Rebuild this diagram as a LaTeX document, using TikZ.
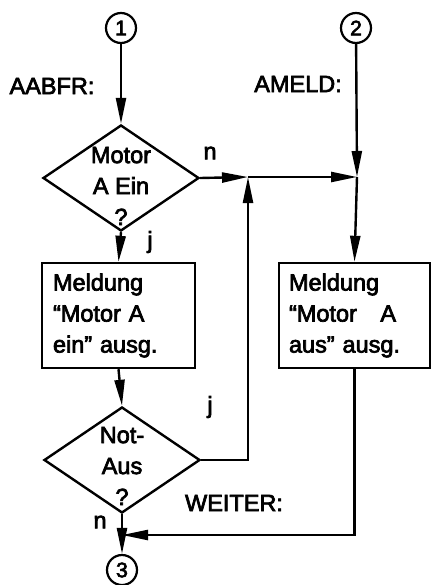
\documentclass[tikz,border=0pt]{standalone}
\usepackage{fontspec}
\setmainfont{Liberation Sans}[FakeBold=3]
\usetikzlibrary{shapes.geometric,arrows.meta}
\tikzset{
  flow/.style={line width=2.4pt},
  arr/.style={flow,-{Triangle[length=26pt,width=10pt]}},
  conn/.style={circle,draw,line width=2.2pt,minimum size=30pt,inner sep=0pt,font=\fontsize{21}{21}\selectfont},
  decis/.style={diamond,draw,line width=2.4pt,minimum width=156pt,minimum height=106pt,inner sep=0pt},
  dtext/.style={align=center,inner sep=0pt},
  proc/.style={rectangle,draw,line width=2.4pt,minimum height=105pt,inner sep=0pt,align=left},
  lbl/.style={inner sep=0pt}
}
\begin{document}
\begin{tikzpicture}[x=1pt,y=-1pt,font=\fontsize{23.5}{31}\selectfont]
\useasboundingbox (0,0) rectangle (432,585);
% connectors
\node[conn] (c1) at (121,28) {1};
\node[conn] (c2) at (356,28) {2};
\node[conn] (c3) at (122,570) {3};
% labels
\node[lbl] (lA) at (52,86) {AABFR:};
\node[lbl] (lB) at (298,84) {AMELD:};
\node[lbl] (lC) at (234,503) {WEITER:};
% decisions
\node[decis] (d1) at (121,178) {};
\node[dtext] (d1t) at (121,186) {Motor\\A Ein\\?};
\node[decis] (d2) at (122,460) {};
\node[dtext] (d2t) at (122,466) {Not-\\Aus\\?};
% boxes
\node[proc,minimum width=153pt,text width=131pt] (b1) at (118.5,315.5) {Meldung\\“Motor A\\ein” ausg.};
\node[proc,minimum width=151pt,text width=131pt] (b2) at (354.5,315.5) {Meldung\\“Motor\ \ \ A\\aus” ausg.};
% branch labels
\node[lbl] (n1) at (210,153) {n};
\node[lbl] (j1) at (150,242) {j};
\node[lbl] (j2) at (210,407) {j};
\node[lbl] (n2) at (100,522) {n};
% junctions
\coordinate (jA) at (248,177);
\coordinate (jB) at (357,177);
\coordinate (jC) at (122,535);
% flow
\draw[arr] (c1) -- (d1.north);
\draw[arr] (d1.south) -- (b1.north);
\draw[arr] (b1.south) -- (d2.north);
\draw[arr] (d2.south) -- (c3);
\draw[arr] (d1.east) -- (jA);
\draw[arr] (jA) -- (jB);
\draw[arr] (c2) -- (jB);
\draw[arr] (jB) -- (b2.north);
\draw[arr] (d2.east) -| (jA);
\draw[arr] (b2.south) |- (jC);
\end{tikzpicture}
\end{document}
